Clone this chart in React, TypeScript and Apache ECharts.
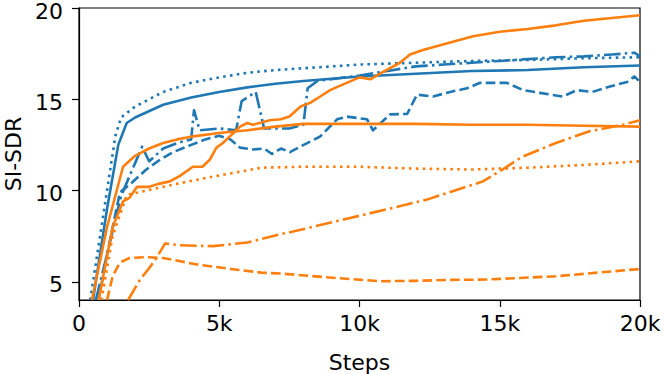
import React, { useEffect, useRef } from "react";
import * as echarts from "echarts";

// x values in thousands of steps
const blueSolidX = [0.5, 1.0, 1.4, 1.7, 2, 3, 4, 5, 6, 7, 8, 10, 12, 14, 16, 18, 20];
const blueSolidY = [4, 9, 12.5, 13.7, 14, 14.7, 15.1, 15.4, 15.65, 15.85, 16, 16.25, 16.4, 16.55, 16.6, 16.75, 16.85];

const blueDottedX = [0.4, 0.9, 1.3, 1.5, 2, 3, 4, 5, 6, 7, 8, 10, 12, 14, 16, 18, 20];
const blueDottedY = [4, 9, 13, 14, 14.6, 15.4, 15.9, 16.2, 16.45, 16.6, 16.7, 16.9, 17.0, 17.1, 17.15, 17.25, 17.3];

const blueDashX = [0.7, 1.0, 1.46, 1.9, 2.4, 2.9, 3.35, 4, 4.5, 5, 5.4, 5.74, 6.2, 6.6, 6.88, 7.2, 7.52, 7.88, 8.59, 9.2, 9.55, 10.27, 10.48, 11.09, 11.7, 12.05, 12.62, 13.23, 13.83, 14.3, 14.65, 15.26, 15.83, 16.43, 17.25, 17.75, 18.3, 18.93, 19.54, 19.8, 20];
const blueDashY = [4, 6.5, 9.9, 10.45, 11.15, 11.7, 12.1, 12.5, 12.8, 13.0, 12.8, 12.35, 12.25, 12.3, 12.0, 12.3, 12.1, 12.4, 12.95, 13.9, 14.05, 13.9, 13.3, 14.17, 14.2, 15.25, 15.15, 15.4, 15.6, 15.9, 15.9, 15.9, 15.5, 15.35, 15.15, 15.5, 15.4, 15.7, 15.95, 16.25, 15.95];

const blueDashDotX = [0.6, 1.0, 1.5, 2.0, 2.25, 2.5, 3, 3.5, 4.0, 4.1, 4.3, 5, 5.6, 5.8, 6.3, 6.6, 7.5, 8.0, 8.15, 8.5, 9, 10, 11, 12, 13, 14, 15, 16, 17, 18, 19, 19.8, 20];
const blueDashDotY = [4, 6.5, 9.7, 11.5, 12.4, 11.6, 12.3, 12.6, 12.8, 14.4, 13.3, 13.4, 13.3, 14.9, 15.4, 13.4, 13.4, 13.6, 15.6, 16.0, 16.1, 16.3, 16.55, 16.8, 16.9, 17.0, 17.1, 17.2, 17.3, 17.35, 17.45, 17.55, 17.35];

const orangeSolidX = [0.46, 1.0, 1.57, 2, 2.5, 3, 3.5, 4, 5, 6, 7, 8, 10, 12, 14, 16, 18, 20];
const orangeSolidY = [4, 8, 11.3, 11.9, 12.3, 12.6, 12.8, 12.95, 13.15, 13.3, 13.5, 13.65, 13.65, 13.65, 13.6, 13.6, 13.55, 13.5];

const orangeSolid2X = [0.7, 1.2, 1.57, 1.8, 2.07, 2.5, 2.8, 3.24, 3.6, 4.06, 4.4, 4.67, 4.9, 5.13, 5.74, 6.0, 6.2, 6.8, 7.2, 7.5, 7.9, 8.24, 8.6, 8.95, 9.4, 10.0, 10.4, 10.84, 11.44, 11.8, 12.26, 13.2, 14.05, 15, 16, 17, 18, 19, 20];
const orangeSolid2Y = [4, 8, 9.4, 9.6, 10.2, 10.2, 10.35, 10.5, 10.8, 11.3, 11.3, 11.7, 12.35, 12.6, 13.5, 13.7, 13.6, 13.85, 13.9, 14.05, 14.6, 14.8, 15.15, 15.5, 15.8, 16.2, 16.1, 16.5, 17.0, 17.45, 17.7, 18.1, 18.45, 18.7, 18.85, 19.05, 19.3, 19.45, 19.6];

const orangeDottedX = [0.8, 1.2, 1.7, 2.4, 3.6, 4.9, 6.5, 8, 10, 12, 14, 16, 18, 20];
const orangeDottedY = [4, 7.5, 9.75, 10.0, 10.4, 10.8, 11.25, 11.3, 11.3, 11.2, 11.15, 11.25, 11.4, 11.6];

const orangeDashX = [1.0, 1.2, 1.46, 1.8, 2.4, 3, 4.2, 5.4, 6.5, 7.2, 8.8, 10.7, 12, 13.2, 14.5, 15.6, 17, 18.5, 20];
const orangeDashY = [4, 5.3, 6.05, 6.3, 6.35, 6.3, 5.95, 5.7, 5.5, 5.45, 5.25, 5.03, 5.05, 5.1, 5.12, 5.2, 5.3, 5.5, 5.7];

const orangeDashDotX = [1.75, 2.17, 2.53, 2.78, 3.07, 3.6, 4.78, 6.0, 7.17, 7.63, 9.4, 11.2, 12.4, 13.2, 14.4, 15.1, 15.8, 17.0, 18.2, 19.4, 20];
const orangeDashDotY = [4, 5.1, 5.8, 6.35, 7.1, 7.0, 6.95, 7.15, 7.6, 7.75, 8.4, 9.05, 9.5, 9.9, 10.5, 11.15, 11.85, 12.6, 13.25, 13.6, 13.85];

const yTicks = [5, 10, 15, 20];

const BLUE = "#1f77b4";
const ORANGE = "#ff7f0e";
const LW = 2.6;
const SOLID: any = "solid";
const DOTTED = [2.6, 4.3];
const DASHED = [9.6, 4.2];
const DASHDOT = [16.6, 4.2, 2.6, 4.2];

function zip(xs: number[], ys: number[]) {
  return xs.map((x, i) => [x, ys[i]]);
}

export default function App() {
  const ref = useRef<HTMLDivElement>(null);
  useEffect(() => {
    if (!ref.current) return;
    const chart = echarts.init(ref.current, undefined, { renderer: "svg" });
    const mk = (name: string, xs: number[], ys: number[], color: string, type: any) => ({
      name,
      type: "line",
      data: zip(xs, ys),
      showSymbol: false,
      symbol: "none",
      clip: true,
      lineStyle: { color, width: LW, type, cap: "butt", join: "round" },
      emphasis: { disabled: true },
    });
    const font = "DejaVu Sans";
    const FS = 22;
    chart.setOption({
      animation: false,
      grid: {
        left: 79,
        right: 24,
        top: 8,
        bottom: 74,
        containLabel: false,
        outerBoundsMode: "none",
        show: true,
        borderColor: "#000",
        borderWidth: 1.2,
        backgroundColor: "transparent",
      },
      xAxis: {
        type: "value",
        min: 0,
        max: 20,
        interval: 5,
        name: "Steps",
        nameLocation: "middle",
        nameGap: 51,
        nameTextStyle: { fontFamily: font, fontSize: FS, color: "#000" },
        axisLine: { show: true, onZero: false, lineStyle: { color: "#000", width: 1.2 } },
        axisTick: { show: true, inside: false, length: 7, lineStyle: { color: "#000", width: 1.2 } },
        axisLabel: {
          fontFamily: font,
          fontSize: FS,
          color: "#000",
          margin: 14,
          lineHeight: 18,
          formatter: (v: number) => (v === 0 ? "0" : `${v}k`),
        },
        splitLine: { show: false },
      },
      yAxis: {
        type: "value",
        min: 4,
        max: 20,
        name: "SI-SDR",
        nameLocation: "middle",
        nameGap: 57,
        nameTextStyle: { fontFamily: font, fontSize: FS, color: "#000", lineHeight: 18 },
        axisLine: { show: true, onZero: false, lineStyle: { color: "#000", width: 1.2 } },
        axisTick: { show: true, inside: false, length: 7, customValues: yTicks, lineStyle: { color: "#000", width: 1.2 } },
        axisLabel: {
          fontFamily: font,
          fontSize: FS,
          color: "#000",
          margin: 16,
          verticalAlign: "top",
          lineHeight: 6,
          customValues: yTicks,
        },
        splitLine: { show: false },
      },
      series: [
        mk("blueSolid", blueSolidX, blueSolidY, BLUE, SOLID),
        mk("blueDotted", blueDottedX, blueDottedY, BLUE, DOTTED),
        mk("blueDash", blueDashX, blueDashY, BLUE, DASHED),
        mk("blueDashDot", blueDashDotX, blueDashDotY, BLUE, DASHDOT),
        mk("orangeSolid", orangeSolidX, orangeSolidY, ORANGE, SOLID),
        mk("orangeSolid2", orangeSolid2X, orangeSolid2Y, ORANGE, SOLID),
        mk("orangeDotted", orangeDottedX, orangeDottedY, ORANGE, DOTTED),
        mk("orangeDash", orangeDashX, orangeDashY, ORANGE, DASHED),
        mk("orangeDashDot", orangeDashDotX, orangeDashDotY, ORANGE, DASHDOT),
      ],
    });
    return () => chart.dispose();
  }, []);
  return (
    <div
      ref={ref}
      style={{ position: "fixed", left: 0, top: 0, width: 664, height: 374, background: "#fff" }}
    />
  );
}
